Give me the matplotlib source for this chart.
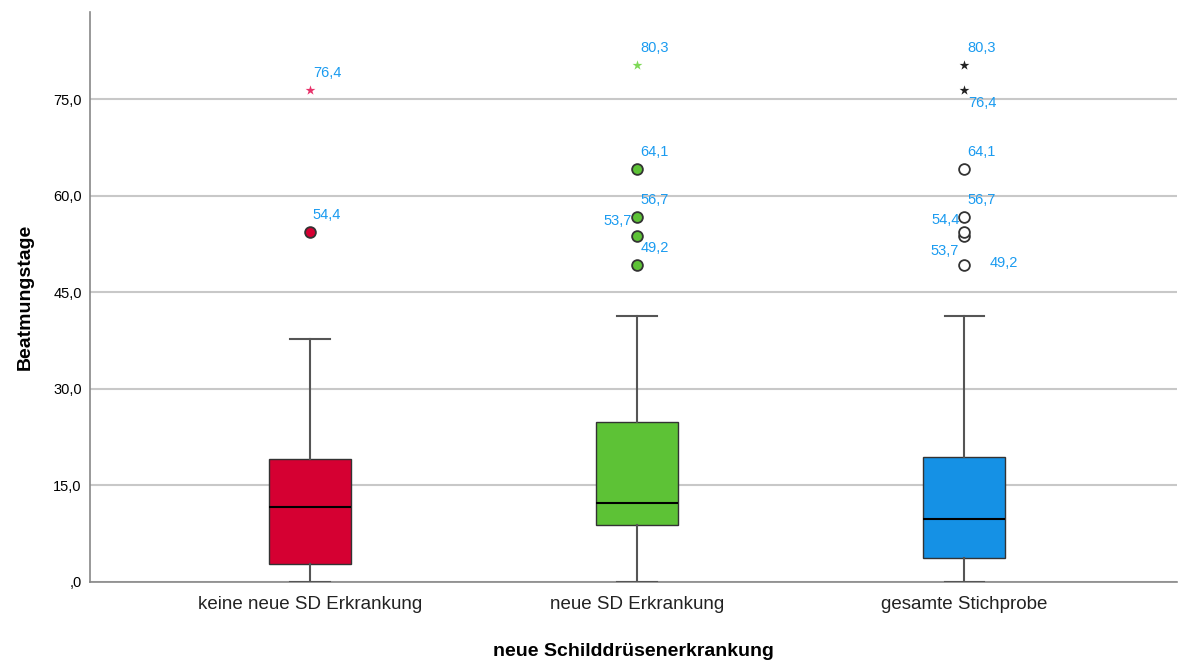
import numpy as np
import matplotlib.pyplot as plt

plt.rcParams['font.family'] = ['Liberation Sans', 'DejaVu Sans']

# Gruppen
kategorien = ["keine neue SD Erkrankung", "neue SD Erkrankung", "gesamte Stichprobe"]
farben = ["#D50032", "#5DC236", "#1591E5"]
stern_farben = ["#E8336B", "#7ED957", "#222222"]

# Boxplot-Kennwerte
unterer_whisker = [0.0, 0.0, 0.0]
q1 = [2.8, 8.85, 3.7]
median = [11.6, 12.3, 9.8]
q3 = [19.1, 24.8, 19.4]
oberer_whisker = [37.7, 41.3, 41.3]

# Ausreißer (Kreise) und Extremwerte (Sterne)
ausreisser = [[54.4], [49.2, 53.7, 56.7, 64.1], [49.2, 53.7, 54.4, 56.7, 64.1]]
extremwerte = [[76.4], [80.3], [76.4, 80.3]]

# Beschriftungen: Wert, Versatz in Pixel, Ausrichtung
beschriftungen = [
    [(76.4, (3, 10), "left"), (54.4, (3, 10), "left")],
    [(80.3, (3, 10), "left"), (64.1, (3, 10), "left"), (56.7, (3, 10), "left"),
     (53.7, (-5, 8), "right"), (49.2, (4, 10), "left")],
    [(80.3, (3, 10), "left"), (76.4, (4, -20), "left"), (64.1, (3, 10), "left"),
     (56.7, (3, 10), "left"), (54.4, (-4, 5), "right"), (53.7, (-5, -22), "right"),
     (49.2, (25, -5), "left")],
]

pos = np.arange(1, len(kategorien) + 1)

fig = plt.figure(figsize=(11.8, 6.64), dpi=100)
ax = fig.add_axes([0.0763, 0.1235, 0.921, 0.858])

stats = []
for i in range(len(kategorien)):
    stats.append(dict(whislo=unterer_whisker[i], q1=q1[i], med=median[i],
                      q3=q3[i], whishi=oberer_whisker[i], fliers=[]))

bp = ax.bxp(stats, positions=pos, widths=0.25, capwidths=0.12, patch_artist=True,
            showfliers=False,
            boxprops=dict(edgecolor="#333333", linewidth=1.0),
            medianprops=dict(color="black", linewidth=1.5),
            whiskerprops=dict(color="#555555", linewidth=1.5),
            capprops=dict(color="#555555", linewidth=1.5))
for patch, c in zip(bp["boxes"], farben):
    patch.set_facecolor(c)
for artist in bp["boxes"] + bp["whiskers"] + bp["caps"] + bp["medians"]:
    artist.set_zorder(3)

for i, p in enumerate(pos):
    ax.scatter([p] * len(ausreisser[i]), ausreisser[i], s=60,
               facecolor=farben[i] if i < 2 else "white",
               edgecolor="#333333", linewidth=1.3, zorder=4)
    ax.scatter([p] * len(extremwerte[i]), extremwerte[i], marker="*", s=55,
               color=stern_farben[i], linewidth=0, zorder=4)
    for wert, off, ha in beschriftungen[i]:
        ax.annotate(f"{wert:.1f}".replace(".", ","), (p, wert), xytext=off,
                    textcoords="offset pixels", ha=ha, va="bottom",
                    color="#1A9BF0", fontsize=10.5, zorder=5)

ax.set_xlim(0.328, 3.65)
ax.set_ylim(0, 88.5)
ax.set_yticks([0, 15, 30, 45, 60, 75])
ax.set_yticklabels([",0", "15,0", "30,0", "45,0", "60,0", "75,0"], fontsize=10.5)
ax.set_xticks(pos)
ax.set_xticklabels(kategorien, fontsize=13.5, color="#222222")
ax.tick_params(length=0, pad=6)
ax.tick_params(axis="x", pad=10)

ax.yaxis.grid(True, color="#C8C8C8", linewidth=1.5, zorder=0)
ax.set_axisbelow(True)
for s in ["top", "right"]:
    ax.spines[s].set_visible(False)
ax.spines["left"].set_color("#888888")
ax.spines["bottom"].set_color("#888888")
ax.spines["left"].set_linewidth(1.2)
ax.spines["bottom"].set_linewidth(1.2)

ax.set_ylabel("Beatmungstage", fontsize=14, fontweight="bold", labelpad=14)
ax.set_xlabel("neue Schilddrüsenerkrankung", fontsize=14, fontweight="bold", labelpad=22)

fig.savefig("out.png", dpi=100)
